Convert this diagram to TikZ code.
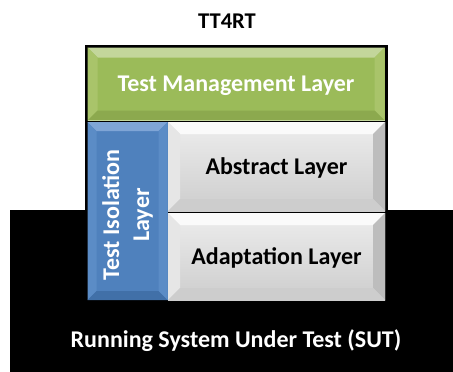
\documentclass[tikz,border=0pt]{standalone}
\usepackage{fontspec}
\setmainfont{Carlito}
\usetikzlibrary{positioning}
\pgfdeclarelayer{background}
\pgfdeclarelayer{back0}
\pgfsetlayers{back0,background,main}
\definecolor{grn}{HTML}{9BBB59}
\definecolor{grnL}{HTML}{C3D69B}
\definecolor{grnM}{HTML}{A9C46A}
\definecolor{grnD}{HTML}{8CA94E}
\definecolor{blu}{HTML}{4F81BD}
\definecolor{bluL}{HTML}{7FA5D6}
\definecolor{bluM}{HTML}{5B8CC6}
\definecolor{bluD}{HTML}{4170A8}
\definecolor{gryT}{HTML}{EDEDED}
\definecolor{gryB}{HTML}{CDCDCD}
\definecolor{gryL}{HTML}{FAFAFA}
\definecolor{gryM}{HTML}{E6E6E6}
\definecolor{gryD}{HTML}{BDBDBD}
\begin{document}
\begin{tikzpicture}[x=1pt,y=-1pt,
  lbl/.style={font=\bfseries\fontsize{24}{27}\selectfont,text height=15.5pt,text depth=0pt},
  layerbox/.style={rectangle,inner sep=0pt,outer sep=0pt,align=center}]
\useasboundingbox (0,0) rectangle (453,372);
\node[layerbox,minimum width=303,minimum height=259,anchor=north west] (frame) at (84.5,44.5) {};
\node[font=\bfseries\fontsize{22.5}{26}\selectfont,text height=14.5pt,text depth=0pt,inner sep=0pt] (title) at (227,21) {TT4RT};
\node[layerbox,lbl,text=white,minimum width=297,minimum height=73,anchor=north west] (mgmt) at (87.5,47.5) {Test Management Layer};
\node[layerbox,minimum width=80,minimum height=178,anchor=north west] (iso) at (87.5,122) {};
\node[font=\bfseries\fontsize{24}{30}\selectfont,text=white,rotate=90,align=center,inner sep=0pt] (isotxt) at ([yshift=-4pt]iso.center) {Test Isolation\\Layer};
\node[layerbox,lbl,minimum width=217,minimum height=89,anchor=north west] (abs) at (168,122) {Abstract Layer};
\node[layerbox,lbl,minimum width=217,minimum height=87,anchor=north west] (adapt) at (168,213) {Adaptation Layer};
\node[lbl,text=white,inner sep=0pt] (sut) at (236,340) {Running System Under Test (SUT)};
\begin{pgfonlayer}{back0}
\fill[black] (10,210) rectangle (453,372);
\fill[black] (frame.north west) rectangle (frame.south east);
\end{pgfonlayer}
\begin{pgfonlayer}{background}
\foreach \n/\d/\base/\lt/\lm/\dk in {mgmt/10/grn/grnL/grnM/grnD,iso/9/blu/bluL/bluM/bluD}{
  \fill[\base] (\n.north west) rectangle (\n.south east);
  \fill[\lt] (\n.north west) -- (\n.north east) -- ([shift={(-\d,\d)}]\n.north east) -- ([shift={(\d,\d)}]\n.north west) -- cycle;
  \fill[\lm] (\n.north west) -- ([shift={(\d,\d)}]\n.north west) -- ([shift={(\d,-\d)}]\n.south west) -- (\n.south west) -- cycle;
  \fill[\lm] (\n.north east) -- ([shift={(-\d,\d)}]\n.north east) -- ([shift={(-\d,-\d)}]\n.south east) -- (\n.south east) -- cycle;
  \fill[\dk] (\n.south west) -- (\n.south east) -- ([shift={(-\d,-\d)}]\n.south east) -- ([shift={(\d,-\d)}]\n.south west) -- cycle;
}
\foreach \n in {abs,adapt}{
  \shade[top color=gryT,bottom color=gryB] (\n.north west) rectangle (\n.south east);
  \fill[gryL] (\n.north west) -- (\n.north east) -- ([shift={(-12,12)}]\n.north east) -- ([shift={(12,12)}]\n.north west) -- cycle;
  \fill[gryM] (\n.north west) -- ([shift={(12,12)}]\n.north west) -- ([shift={(12,-12)}]\n.south west) -- (\n.south west) -- cycle;
  \fill[gryD] (\n.north east) -- ([shift={(-12,12)}]\n.north east) -- ([shift={(-12,-12)}]\n.south east) -- (\n.south east) -- cycle;
  \fill[gryB] (\n.south west) -- (\n.south east) -- ([shift={(-12,-12)}]\n.south east) -- ([shift={(12,-12)}]\n.south west) -- cycle;
}
\end{pgfonlayer}
\draw[grnL,line width=1.5pt] (mgmt.south west) -- (mgmt.south east);
\end{tikzpicture}
\end{document}
